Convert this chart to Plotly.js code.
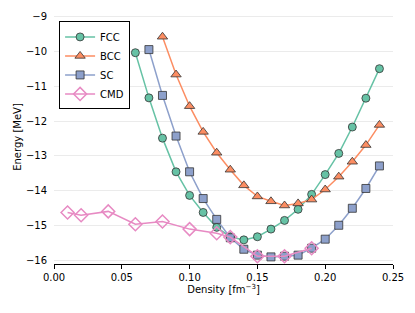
<!DOCTYPE html>
<html><head><meta charset="utf-8">
<script src="https://cdn.plot.ly/plotly-3.0.1.min.js"></script>
<style>html,body{margin:0;padding:0;background:#fff}#c{width:415px;height:313px}</style>
</head><body><div id="c"></div>
<script>
const fccX = [0.06,0.07,0.08,0.09,0.10,0.11,0.12,0.13,0.14,0.15,0.16,0.17,0.18,0.19,0.20,0.21,0.22,0.23,0.24];
const fccY = [-10.03,-11.33,-12.49,-13.46,-14.14,-14.63,-15.06,-15.33,-15.42,-15.33,-15.11,-14.86,-14.54,-14.11,-13.54,-12.93,-12.17,-11.34,-10.49];
const bccX = [0.08,0.09,0.10,0.11,0.12,0.13,0.14,0.15,0.16,0.17,0.18,0.19,0.20,0.21,0.22,0.23,0.24];
const bccY = [-9.57,-10.66,-11.57,-12.31,-12.91,-13.40,-13.85,-14.17,-14.31,-14.43,-14.37,-14.26,-13.97,-13.60,-13.17,-12.69,-12.11];
const scX = [0.07,0.08,0.09,0.10,0.11,0.12,0.13,0.14,0.15,0.16,0.17,0.18,0.19,0.20,0.21,0.22,0.23,0.24];
const scY = [-9.94,-11.26,-12.43,-13.46,-14.23,-14.83,-15.36,-15.69,-15.86,-15.91,-15.89,-15.86,-15.66,-15.40,-15.00,-14.51,-13.94,-13.29];
const cmdX = [0.01,0.02,0.04,0.06,0.08,0.10,0.12,0.13,0.15,0.17,0.19];
const cmdY = [-14.63,-14.71,-14.60,-14.97,-14.89,-15.11,-15.23,-15.34,-15.89,-15.89,-15.66];
const xTicks = [0, 0.05, 0.10, 0.15, 0.20, 0.25];
const xTickText = ['0.00','0.05','0.10','0.15','0.20','0.25'];
const yTicks = [-16,-15,-14,-13,-12,-11,-10,-9];
const yTickText = yTicks.map(v => v < 0 ? '\u2212' + Math.abs(v) : String(v));

const edge = {color:'#333333', width:0.8};
const traces = [
  {x:fccX, y:fccY, name:'FCC', mode:'lines+markers', line:{color:'#66c2a5', width:1.5},
   marker:{symbol:'circle', size:8, color:'#66c2a5', line:edge}},
  {x:bccX, y:bccY, name:'BCC', mode:'lines+markers', line:{color:'#fc8d62', width:1.5},
   marker:{symbol:'triangle-up', size:9, color:'#fc8d62', line:edge}},
  {x:scX, y:scY, name:'SC', mode:'lines+markers', line:{color:'#8da0cb', width:1.5},
   marker:{symbol:'square', size:8, color:'#8da0cb', line:edge}},
  {x:cmdX, y:cmdY, name:'CMD', mode:'lines+markers', line:{color:'#e78ac3', width:1.5},
   marker:{symbol:'diamond-open', size:10, color:'#e78ac3', line:{color:'#e78ac3', width:1.5}}}
];
const font = {family:'DejaVu Sans, sans-serif', size:10, color:'#000'};
const layout = {
  width:415, height:313,
  margin:{l:54, r:22, t:10, b:49},
  paper_bgcolor:'#fff', plot_bgcolor:'#fff',
  font: font,
  showlegend:true,
  legend:{x:0.015, y:0.955, xanchor:'left', yanchor:'top', bgcolor:'#fff', bordercolor:'#000', borderwidth:1,
          font:{family:'DejaVu Sans, sans-serif', size:10, color:'#000'}, tracegroupgap:0, itemwidth:30},
  xaxis:{range:[0,0.25], tickvals:xTicks, ticktext:xTickText, showgrid:false, zeroline:false,
         showline:true, linecolor:'#000', linewidth:1, ticks:'outside', ticklen:3.5, tickcolor:'#000',
         title:{text:'Density [fm<sup>\u22123</sup>]', font:font, standoff:4}},
  yaxis:{range:[-16.115,-8.8], tickvals:yTicks, ticktext:yTickText, showgrid:true, gridcolor:'#ebebeb', gridwidth:1,
         zeroline:false, showline:false, ticks:'', ticklabelstandoff:6,
         title:{text:'Energy [MeV]', font:font, standoff:2}}
};
Plotly.newPlot('c', traces, layout, {displayModeBar:false, staticPlot:true});
</script></body></html>
